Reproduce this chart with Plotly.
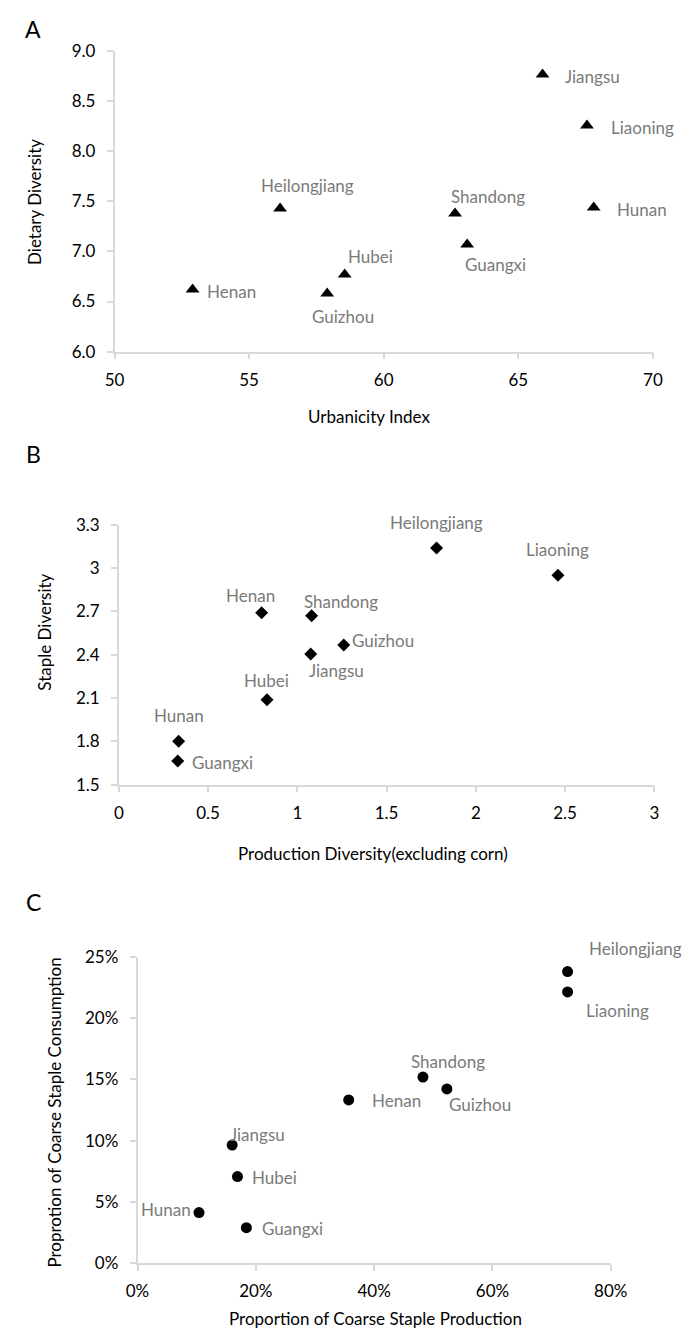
import plotly.graph_objects as go

# ---------------- data ----------------
provinces_a = ["Jiangsu", "Liaoning", "Hunan", "Heilongjiang", "Shandong", "Guangxi", "Hubei", "Guizhou", "Henan"]
urbanicity = [65.9, 67.55, 67.8, 56.15, 62.65, 63.1, 58.55, 57.9, 52.9]
dietary_div = [8.77, 8.26, 7.44, 7.43, 7.38, 7.07, 6.77, 6.58, 6.62]

provinces_b = ["Heilongjiang", "Liaoning", "Henan", "Shandong", "Guizhou", "Jiangsu", "Hubei", "Hunan", "Guangxi"]
prod_div = [1.78, 2.46, 0.80, 1.08, 1.26, 1.075, 0.83, 0.335, 0.33]
staple_div = [3.14, 2.95, 2.69, 2.67, 2.467, 2.405, 2.088, 1.80, 1.664]

provinces_c = ["Heilongjiang", "Liaoning", "Shandong", "Guizhou", "Henan", "Jiangsu", "Hubei", "Hunan", "Guangxi"]
coarse_prod = [0.727, 0.727, 0.4825, 0.523, 0.357, 0.160, 0.169, 0.104, 0.184]
coarse_cons = [0.238, 0.2214, 0.1519, 0.1422, 0.1332, 0.0963, 0.0706, 0.0412, 0.0289]

ticks_a_x = [50, 55, 60, 65, 70]
ticks_a_y = [6.0, 6.5, 7.0, 7.5, 8.0, 8.5, 9.0]
ticks_b_x = [0, 0.5, 1, 1.5, 2, 2.5, 3]
ticklabels_b_x = ["0", "0.5", "1", "1.5", "2", "2.5", "3"]
ticks_b_y = [1.5, 1.8, 2.1, 2.4, 2.7, 3.0, 3.3]
ticklabels_b_y = ["1.5", "1.8", "2.1", "2.4", "2.7", "3", "3.3"]
ticks_c_x = [0, 0.2, 0.4, 0.6, 0.8]
ticks_c_y = [0, 0.05, 0.10, 0.15, 0.20, 0.25]

# label placement (pixel offsets: anchor, xshift, yshift)
label_style_a = [("left", 20, -2), ("left", 22, -2), ("left", 21, -2), ("center", 27, 23), ("center", 33, 17),
                 ("center", 28, -20), ("center", 26, 18), ("center", 16, -23), ("left", 12, -2)]
label_style_b = [("center", 0, 25), ("center", 0, 26), ("center", -11, 17), ("center", 29, 14), ("left", 6, 5),
                 ("center", 26, -16), ("center", 0, 19), ("center", 0, 26), ("left", 12, -2)]
label_style_c = [("left", 19, 23), ("left", 16, -19), ("center", 25, 16), ("center", 33, -16), ("left", 21, -1),
                 ("center", 25, 11), ("left", 13, -1), ("right", -6, 3), ("left", 14, -1)]

# ---------------- layout helpers ----------------
W, H = 691, 1337
FONT = "Lato, 'Open Sans', sans-serif"
LABEL_COLOR = "#7a7a7a"
AXIS_COLOR = "#d9d9d9"


def px(p):
    return p / W


def py(p):
    return 1 - p / H


fig = go.Figure()

panels = [
    ("x", "y", urbanicity, dietary_div, provinces_a, label_style_a, "triangle-up", 12),
    ("x2", "y2", prod_div, staple_div, provinces_b, label_style_b, "diamond", 10),
    ("x3", "y3", coarse_prod, coarse_cons, provinces_c, label_style_c, "circle", 11),
]

annotations = []
for xa, ya, xs, ys, names, styles, sym, size in panels:
    fig.add_trace(go.Scatter(
        x=xs, y=ys, mode="markers", xaxis=xa, yaxis=ya,
        marker=dict(symbol=sym, size=size, color="black"),
        showlegend=False, hoverinfo="text", text=names, cliponaxis=False,
    ))
    for xv, yv, name, (anc, dx, dy) in zip(xs, ys, names, styles):
        annotations.append(dict(
            x=xv, y=yv, xref=xa, yref=ya, text=name, showarrow=False,
            xanchor=anc, yanchor="middle", xshift=dx, yshift=dy,
            font=dict(family=FONT, size=17, color=LABEL_COLOR),
        ))

axis_common = dict(
    showline=True, linecolor=AXIS_COLOR, linewidth=1.5, showgrid=False, zeroline=False,
    ticks="outside", ticklen=6, tickcolor=AXIS_COLOR, tickwidth=1.5,
    tickfont=dict(family=FONT, size=17, color="black"), fixedrange=True,
)
xcommon = dict(axis_common, ticklabelstandoff=6)
ycommon = dict(axis_common, ticklabelstandoff=8)

fig.update_layout(
    width=W, height=H, margin=dict(l=0, r=0, t=0, b=0),
    paper_bgcolor="white", plot_bgcolor="white",
    xaxis=dict(domain=[px(107), px(669)], range=[50, 70], tickmode="array", tickvals=ticks_a_x,
               anchor="y", **xcommon),
    yaxis=dict(domain=[py(346), py(41)], range=[6, 9], tickmode="array", tickvals=ticks_a_y,
               tickformat=".1f", anchor="x", **ycommon),
    xaxis2=dict(domain=[px(111.5), px(670.5)], range=[0, 3], tickmode="array", tickvals=ticks_b_x,
                ticktext=ticklabels_b_x, anchor="y2", **xcommon),
    yaxis2=dict(domain=[py(786), py(522)], range=[1.5, 3.3], tickmode="array", tickvals=ticks_b_y,
                ticktext=ticklabels_b_y, anchor="x2", **ycommon),
    xaxis3=dict(domain=[px(131), px(625)], range=[0, 0.8], tickmode="array", tickvals=ticks_c_x,
                tickformat=".0%", anchor="y3", **xcommon),
    yaxis3=dict(domain=[py(1272), py(961)], range=[0, 0.25], tickmode="array", tickvals=ticks_c_y,
                tickformat=".0%", anchor="x3", **ycommon),
)

titles = [
    ("A", 22, 18, 0, 23), ("B", 22, 450, 0, 23), ("C", 22, 905, 0, 23),
    ("Urbanicity Index", 373, 412, 0, 17),
    ("Dietary Diversity", 24, 194, -90, 17),
    ("Production Diversity(excluding corn)", 377, 856, 0, 17),
    ("Staple Diversity", 33, 631, -90, 17),
    ("Proportion of Coarse Staple Production", 379, 1328, 0, 17),
    ("Proprotion of Coarse Staple Consumption", 44, 1119, -90, 17),
]
for text, x, y, ang, sz in titles:
    annotations.append(dict(
        x=px(x), y=py(y), xref="paper", yref="paper", text=text, showarrow=False,
        xanchor="center", yanchor="middle", textangle=ang,
        font=dict(family=FONT, size=sz, color="black"),
    ))

fig.update_layout(annotations=annotations)
fig.write_html("out.html", config={"displayModeBar": False},
               post_script="document.body.style.margin='0';document.documentElement.style.overflow='hidden';")
